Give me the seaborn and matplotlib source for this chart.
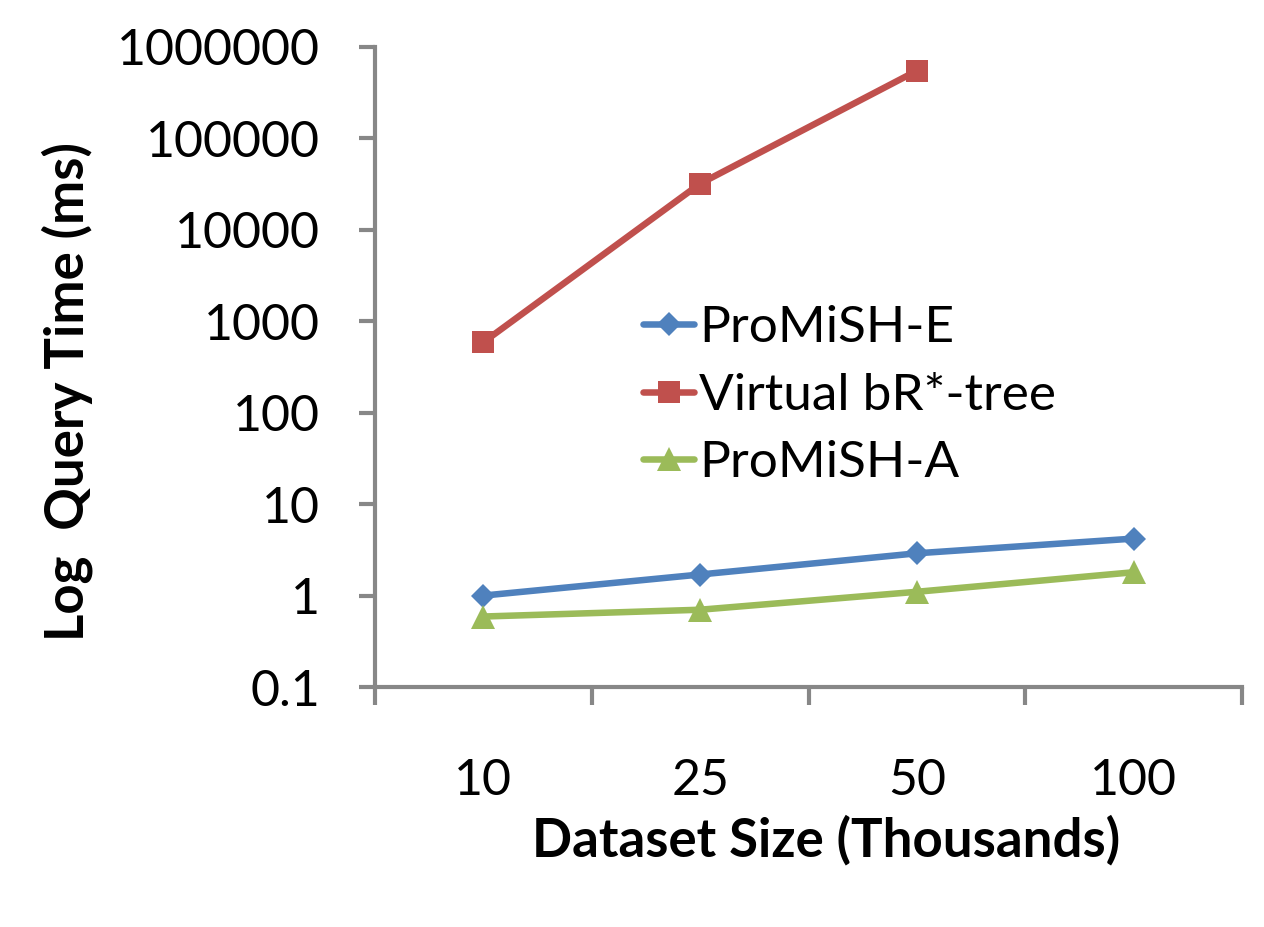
import numpy as np
import pandas as pd
import matplotlib
matplotlib.use("Agg")
import matplotlib.pyplot as plt
from matplotlib.ticker import FixedLocator, NullLocator
import seaborn as sns

# values
sizes = ["10", "25", "50", "100"]
promish_e = [1.0, 1.7, 2.9, 4.2]
virtual_br = [590, 32000, 550000, np.nan]
promish_a = [0.59, 0.70, 1.1, 1.8]
series_names = ["ProMiSH-E", "Virtual bR*-tree", "ProMiSH-A"]
y_ticks = [0.1, 1, 10, 100, 1000, 10000, 100000, 1000000]
y_tick_labels = ["0.1", "1", "10", "100", "1000", "10000", "100000", "1000000"]

rows = []
for name, vals in zip(series_names, [promish_e, virtual_br, promish_a]):
    for i, v in enumerate(vals):
        rows.append({"pos": i, "time": v, "method": name})
df = pd.DataFrame(rows).dropna()

sns.set_style("white")
plt.rcParams["font.family"] = ["Lato", "DejaVu Sans"]
plt.rcParams["text.color"] = "black"
plt.rcParams["axes.labelcolor"] = "black"

colors = {"ProMiSH-E": "#4F81BD", "Virtual bR*-tree": "#C0504D", "ProMiSH-A": "#9BBB59"}
markers = {"ProMiSH-E": "D", "Virtual bR*-tree": "s", "ProMiSH-A": "^"}
msizes = {"ProMiSH-E": 12, "Virtual bR*-tree": 16.5, "ProMiSH-A": 17}

fig = plt.figure(figsize=(12.64, 9.27), dpi=100)
ax = fig.add_axes([375 / 1264, 1 - 687 / 927, 867 / 1264, 640 / 927])

for name in series_names:
    sns.lineplot(data=df[df["method"] == name], x="pos", y="time", ax=ax,
                 color=colors[name], marker=markers[name], markersize=msizes[name],
                 markeredgewidth=0, linewidth=4.7, label=name, sort=False)

ax.set_yscale("log")
ax.set_ylim(0.1, 1000000)
ax.yaxis.set_major_locator(FixedLocator(y_ticks))
ax.yaxis.set_minor_locator(NullLocator())
ax.set_yticklabels(y_tick_labels)

ax.set_xlim(-0.5, len(sizes) - 0.5)
ax.set_xticks(range(len(sizes)))
ax.set_xticklabels(sizes)
ax.set_xticks(np.arange(-0.5, len(sizes)), minor=True)

grey = "#878787"
for side in ["top", "right"]:
    ax.spines[side].set_visible(False)
for side in ["left", "bottom"]:
    ax.spines[side].set_color(grey)
    ax.spines[side].set_linewidth(3)

ax.tick_params(axis="y", which="major", direction="out", length=11.5, width=3,
               color=grey, labelcolor="black", labelsize=36, pad=28, left=True)
ax.tick_params(axis="x", which="major", length=0, labelsize=36, labelcolor="black", pad=51)
ax.tick_params(axis="x", which="minor", direction="out", length=13, width=3,
               color=grey, bottom=True)

ax.set_ylabel("Log  Query Time (ms)", fontsize=38, fontweight="bold")
ax.yaxis.label.set_va("center")
ax.yaxis.set_label_coords(-0.355, 0.462)
ax.set_xlabel("Dataset Size (Thousands)", fontsize=38, fontweight="bold")
ax.xaxis.label.set_va("center")
ax.xaxis.set_label_coords(0.52, -0.239)

handles, labels = ax.get_legend_handles_labels()
ax.legend(handles, labels, loc="upper left", bbox_to_anchor=(0.309, 0.597),
          frameon=False, fontsize=37, handlelength=1.0, handletextpad=0.1,
          labelspacing=0.42, borderpad=0, borderaxespad=0, numpoints=1)

fig.savefig("out.png", dpi=100)
